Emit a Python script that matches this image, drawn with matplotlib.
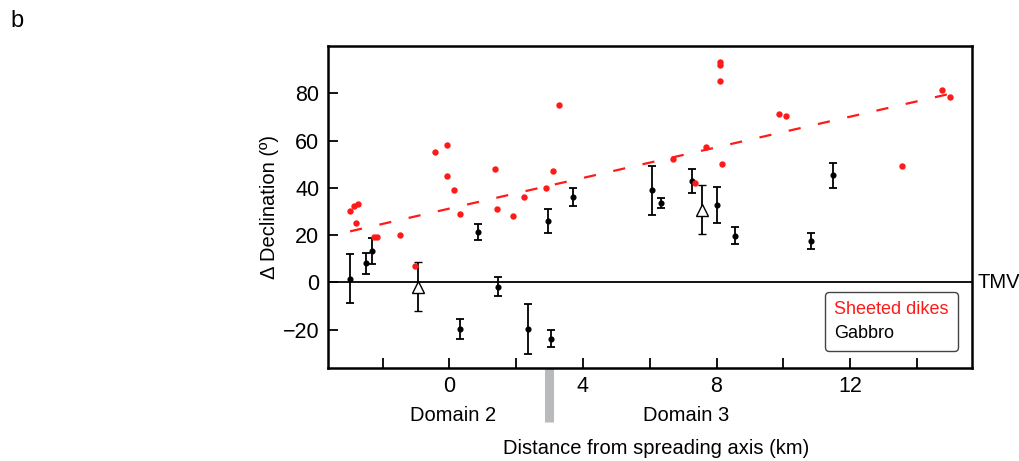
import matplotlib
matplotlib.use('Agg')
import matplotlib.pyplot as plt
import matplotlib.transforms as mtransforms
from matplotlib.lines import Line2D

plt.rcParams['font.family'] = ['Liberation Sans', 'DejaVu Sans']

# sheeted dikes (red dots)
dike_x = [-2.98, -2.84, -2.74, -2.80, -2.26, -2.16, -1.47, -1.04, -0.43, -0.06, -0.06, 0.13,
          0.33, 1.38, 1.43, 1.90, 2.24, 2.90, 3.11, 3.28, 6.70, 7.35, 7.69, 8.09, 8.09,
          8.09, 8.15, 9.88, 10.08, 13.54, 14.76, 15.0]
dike_y = [30.1, 32.3, 33.0, 25.0, 19.0, 19.0, 20.1, 7.0, 55.1, 58.2, 45.0, 39.1,
          29.1, 48.1, 31.1, 28.1, 36.1, 40.1, 47.1, 75.2, 52.2, 42.2, 57.2, 93.1, 92.1,
          85.4, 50.2, 71.3, 70.2, 49.1, 81.4, 78.3]

# regression line through dikes (end points)
fit_x = [-2.97, 14.96]
fit_y = [21.6, 79.7]

# gabbro sites (black dots with error bars)
gab_x = [-2.98, -2.49, -2.31, 0.31, 0.87, 1.47, 2.35, 3.04, 2.94, 3.71,
         6.07, 6.33, 7.28, 8.0, 8.56, 10.84, 11.48]
gab_y = [1.5, 8.0, 13.2, -19.7, 21.4, -1.8, -19.7, -23.8, 25.9, 36.1,
         38.9, 33.6, 42.9, 32.9, 19.7, 17.6, 45.3]
gab_err = [10.4, 4.5, 5.5, 4.3, 3.4, 3.9, 10.4, 3.7, 5.2, 3.9,
           10.5, 2.1, 5.0, 7.6, 3.6, 3.5, 5.3]

# gabbro means (open triangles)
mean_x = [-0.95, 7.57]
mean_y = [-1.8, 30.8]
mean_err = [10.5, 10.4]

domain_x = [0.12, 7.09]
domain_labels = ['Domain 2', 'Domain 3']
boundary_x = 2.97

legend_labels = ['Sheeted dikes', 'Gabbro']
legend_colors = ['#ff1a1a', 'black']

fig = plt.figure(figsize=(10.2, 4.61), dpi=100)
ax = fig.add_axes([0.3213, 0.2028, 0.6317, 0.6974])

ax.axhline(0, color='black', lw=1.3, zorder=1)

ax.errorbar(gab_x, gab_y, yerr=gab_err, fmt='o', ms=3.4, color='black',
            elinewidth=1.3, capsize=3.2, capthick=1.3, zorder=3)
ax.errorbar(mean_x, mean_y, yerr=mean_err, fmt='^', ms=9, mfc='white', mec='black',
            mew=1.0, color='black', elinewidth=1.3, capsize=3.2, capthick=1.3, zorder=3)

ax.plot(fit_x, fit_y, color='#ff1a1a', lw=1.6, dashes=(5.5, 8), zorder=2)
ax.plot(dike_x, dike_y, 'o', color='#ff1a1a', ms=4.6, mew=0, zorder=4)

ax.set_xlim(-3.64, 15.65)
ax.set_ylim(-36, 100)
ax.set_xticks([0, 4, 8, 12])
ax.set_xticks([-2, 2, 6, 10, 14], minor=True)
ax.set_yticks([-20, 0, 20, 40, 60, 80])
ax.tick_params(axis='both', which='both', direction='in', length=7, width=1.3,
               labelsize=15.5, pad=6)
for sp in ax.spines.values():
    sp.set_linewidth(1.8)

ax.set_ylabel('Δ Declination (º)', fontsize=14.5)
ax.yaxis.set_label_coords(-0.075, 0.5)
ax.set_xlabel('Distance from spreading axis (km)', fontsize=14.5)
ax.xaxis.set_label_coords(0.51, -0.222)

trans = mtransforms.blended_transform_factory(ax.transData, ax.transAxes)
ax.plot([boundary_x, boundary_x], [0, -0.17], transform=trans, color='#b8babc',
        lw=6.5, solid_capstyle='butt', clip_on=False)
for dx, lab in zip(domain_x, domain_labels):
    ax.text(dx, -0.148, lab, transform=trans, ha='center', va='center', fontsize=14.5)

trans2 = mtransforms.blended_transform_factory(ax.transAxes, ax.transData)
ax.text(1.009, 0, 'TMV', transform=trans2, ha='left', va='center', fontsize=14.5)

proxies = [Line2D([], [], ls='none') for _ in legend_labels]
leg = ax.legend(proxies, legend_labels, loc='lower right',
                bbox_to_anchor=(0.978, 0.052), borderaxespad=0, fontsize=13,
                handlelength=0, handletextpad=0, frameon=True, fancybox=True,
                edgecolor='#444444', framealpha=1, labelspacing=0.35,
                borderpad=0.5)
for t, c in zip(leg.get_texts(), legend_colors):
    t.set_color(c)
leg.get_frame().set_linewidth(1.0)

fig.text(0.01, 0.955, 'b', fontsize=17, va='center')

fig.savefig('out.png', dpi=100)
